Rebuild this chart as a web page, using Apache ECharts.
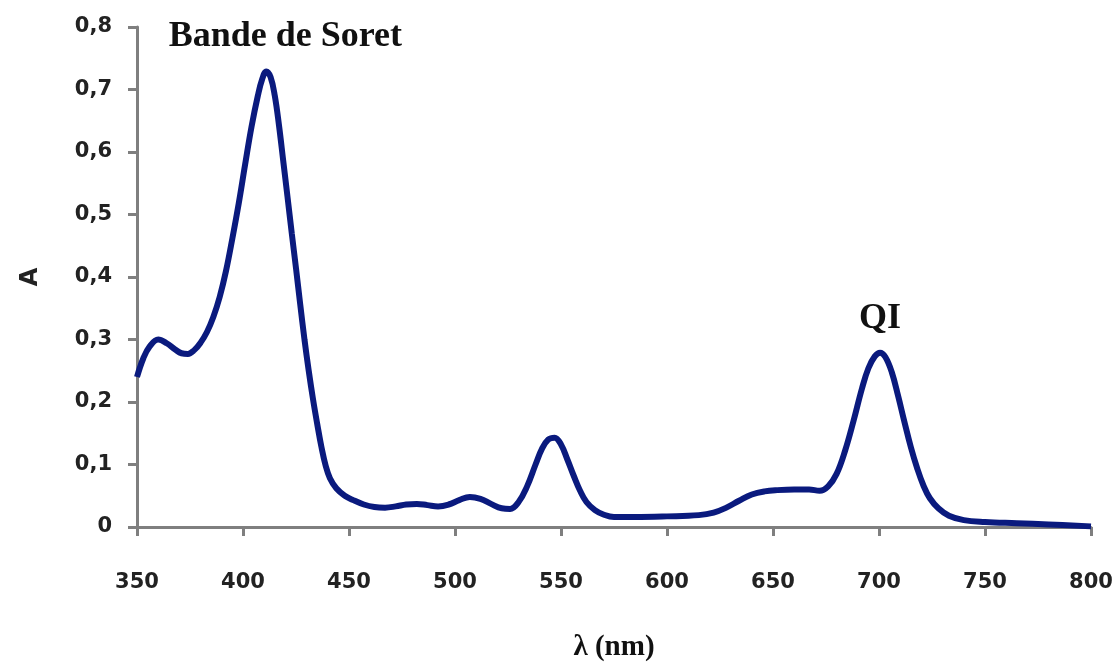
<!DOCTYPE html>
<html>
<head>
<meta charset="utf-8">
<script src="https://cdn.jsdelivr.net/npm/echarts@6/dist/echarts.min.js"></script>
<style>
  html, body { margin: 0; padding: 0; background: #fff; }
  #chart { width: 1119px; height: 663px; }
</style>
</head>
<body>
<div id="chart"></div>
<script>
// Absorption spectrum: wavelength (nm) and absorbance
const wavelengths = [
  350, 353, 356, 360, 364, 368, 371, 374, 377, 380, 383, 386, 389, 392, 395, 398,
  401, 404, 407, 409, 411, 413, 415, 417, 419, 421, 423, 425, 427, 429, 431, 433, 435,
  437, 439, 441, 444, 448, 452, 457, 462, 467, 472, 477, 482, 487, 492, 497, 502, 507,
  512, 517, 522, 526, 530, 534, 538, 541, 544, 547, 550, 553, 556, 559, 562, 566, 570,
  575, 585, 600, 615, 622, 628, 634, 640, 646, 652, 660, 667, 672, 676, 680, 684, 688,
  692, 695, 698, 700.5, 703, 706, 709, 712, 715, 718, 721, 724, 728, 733, 740, 750, 765,
  780, 800
];
const absorbance = [
  0.240, 0.270, 0.289, 0.300, 0.294, 0.284, 0.278, 0.277, 0.283, 0.295, 0.312, 0.336, 0.368, 0.410, 0.462, 0.518,
  0.580, 0.640, 0.690, 0.716, 0.729, 0.720, 0.690, 0.642, 0.585, 0.528, 0.470, 0.414, 0.356, 0.300, 0.250, 0.205, 0.165,
  0.128, 0.098, 0.078, 0.062, 0.050, 0.043, 0.036, 0.032, 0.031, 0.033, 0.036, 0.037, 0.035, 0.033, 0.036, 0.043, 0.048,
  0.045, 0.037, 0.030, 0.029, 0.040, 0.065, 0.100, 0.125, 0.140, 0.143, 0.132, 0.108, 0.082, 0.058, 0.040, 0.027, 0.020,
  0.016, 0.016, 0.017, 0.019, 0.023, 0.031, 0.042, 0.052, 0.057, 0.059, 0.060, 0.060, 0.058, 0.065, 0.085, 0.122, 0.170,
  0.222, 0.254, 0.273, 0.279, 0.272, 0.248, 0.210, 0.168, 0.128, 0.094, 0.066, 0.046, 0.030, 0.018, 0.011, 0.008, 0.006,
  0.004, 0.001
];

// Band annotations: [label, wavelength, absorbance]
const bandLabels = [
  ['Bande de Soret', 420, 0.785],
  ['QI', 700.5, 0.333]
];

const xTicks = { min: 350, max: 800, step: 50 };
const yTicks = { min: 0, max: 0.8, step: 0.1 };

const points = wavelengths.map((w, i) => [w, absorbance[i]]);

const axisColor = '#7f7f7f';
const labelFont = { fontFamily: 'DejaVu Sans', fontWeight: 'bold', fontSize: 21, color: '#222' };

const chart = echarts.init(document.getElementById('chart'));
chart.setOption({
  animation: false,
  backgroundColor: '#fff',
  grid: { left: 137, right: 28, top: 27, bottom: 136, containLabel: false, outerBoundsMode: 'none' },
  xAxis: {
    type: 'value',
    min: xTicks.min, max: xTicks.max, interval: xTicks.step,
    name: 'λ (nm)',
    nameLocation: 'middle',
    nameGap: 106,
    nameTextStyle: { fontFamily: 'Liberation Serif', fontWeight: 'bold', fontSize: 29, color: '#111' },
    axisLine: { show: true, lineStyle: { color: axisColor, width: 3 } },
    axisTick: { show: true, length: 9, lineStyle: { color: axisColor, width: 3 } },
    axisLabel: Object.assign({ margin: 45 }, labelFont),
    splitLine: { show: false }
  },
  yAxis: {
    type: 'value',
    min: yTicks.min, max: yTicks.max, interval: yTicks.step,
    name: 'A',
    nameLocation: 'middle',
    nameGap: 94,
    nameRotate: 90,
    nameTextStyle: { fontFamily: 'DejaVu Sans', fontWeight: 'bold', fontSize: 24, color: '#222' },
    axisLine: { show: true, lineStyle: { color: axisColor, width: 3 } },
    axisTick: { show: true, length: 9, lineStyle: { color: axisColor, width: 3 } },
    axisLabel: Object.assign({
      margin: 25,
      formatter: v => v === 0 ? '0' : v.toFixed(1).replace('.', ',')
    }, labelFont),
    splitLine: { show: false }
  },
  series: [{
    type: 'line',
    data: points,
    smooth: 0.4,
    showSymbol: false,
    symbol: 'none',
    lineStyle: { color: '#0a1a7e', width: 6 },
    markPoint: {
      symbol: 'circle',
      symbolSize: 0,
      silent: true,
      label: {
        show: true,
        position: 'inside',
        formatter: p => p.name,
        fontFamily: 'Liberation Serif',
        fontWeight: 'bold',
        fontSize: 36,
        color: '#111'
      },
      data: bandLabels.map(b => ({ name: b[0], coord: [b[1], b[2]] }))
    }
  }]
});
</script>
</body>
</html>
